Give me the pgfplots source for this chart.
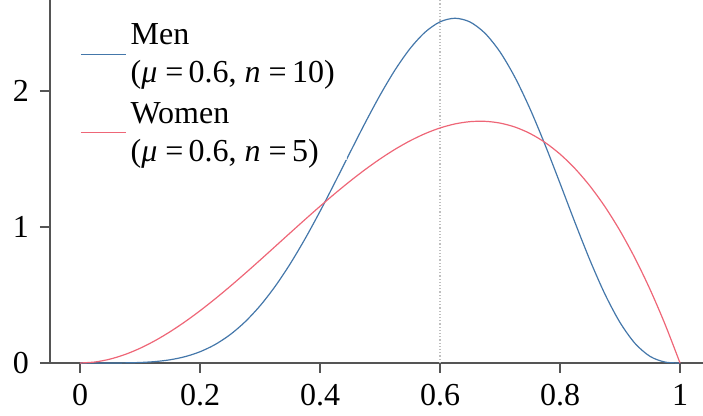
\documentclass[border=0pt]{standalone}
\usepackage{fontspec}
\setmainfont{Liberation Serif}
\usepackage{pgfplots}
\pgfplotsset{compat=1.18}
\definecolor{tolblue}{HTML}{4477AA}
\definecolor{tolred}{HTML}{EE6677}
\definecolor{axgray}{HTML}{555555}
\begin{document}
\fontsize{16}{19}\selectfont
\begin{tikzpicture}
\begin{axis}[
  scale only axis,
  width=326.5pt, height=181.5pt,
  xmin=-0.05, xmax=1.0383, ymin=0, ymax=2.669,
  axis lines=left,
  axis line style={-, axgray, line width=0.6pt},
  tick style={axgray, line width=0.6pt},
  tick align=outside, major tick length=5pt,
  xtick={0,0.2,0.4,0.6,0.8,1},
  ytick={0,1,2},
  xticklabels={0,0.2,0.4,0.6,0.8,1},
  yticklabels={0,1,2},
  tick label style={font=\fontsize{16}{19}\selectfont},
  /pgf/number format/assume math mode=true,
  legend style={draw=none, fill=white, fill opacity=0.8, text opacity=1,
    at={(rel axis cs:0,1)}, anchor=north west, xshift=11pt, yshift=-3pt,
    font=\fontsize{16}{19}\selectfont, inner sep=4pt, row sep=9.5pt},
  legend cell align=left,
  legend image code/.code={\draw[#1] (0pt,-5pt) -- (22.5pt,-5pt);},
  clip=false,
]
\addplot[gray!50, densely dotted, line width=0.6pt, forget plot] coordinates {(0.6,0) (0.6,2.669)};
\addplot[tolblue, line width=0.6pt, smooth] coordinates {
(0,0) (0.025,0.0000046) (0.05,0.000135) (0.075,0.000947) (0.1,0.003674)
(0.125,0.010305) (0.15,0.023505) (0.175,0.04645) (0.2,0.08258)
(0.225,0.13528) (0.25,0.20764) (0.275,0.30208) (0.3,0.42008)
(0.325,0.56203) (0.35,0.72697) (0.375,0.91249) (0.4,1.11477)
(0.425,1.32855) (0.45,1.54735) (0.475,1.76353) (0.5,1.96875)
(0.525,2.1543) (0.55,2.3114) (0.575,2.4319) (0.6,2.50822)
(0.625,2.5347) (0.65,2.5073) (0.675,2.4244) (0.7,2.28709)
(0.725,2.0995) (0.75,1.86877) (0.775,1.6051) (0.8,1.32122)
(0.825,1.0323) (0.85,0.75475) (0.875,0.50490) (0.9,0.29761)
(0.925,0.14399) (0.95,0.048748) (0.975,0.006939) (1,0)
};
\addlegendentry{\begin{tabular}[c]{@{}l@{}}Men\\(\textit{μ} =\,0.6, \textit{n} =\,10)\end{tabular}}
\addplot[tolred, line width=0.6pt, smooth] coordinates {
(0,0) (0.025,0.0073125) (0.05,0.0285) (0.075,0.0624375) (0.1,0.108)
(0.125,0.1640625) (0.15,0.2295) (0.175,0.3031875) (0.2,0.384)
(0.225,0.4708125) (0.25,0.5625) (0.275,0.6579375) (0.3,0.756)
(0.325,0.8555625) (0.35,0.9555) (0.375,1.0546875) (0.4,1.152)
(0.425,1.2463125) (0.45,1.3365) (0.475,1.4214375) (0.5,1.5)
(0.525,1.5710625) (0.55,1.6335) (0.575,1.6861875) (0.6,1.728)
(0.625,1.7578125) (0.65,1.7745) (0.675,1.7769375) (0.7,1.764)
(0.725,1.7345625) (0.75,1.6875) (0.775,1.6216875) (0.8,1.536)
(0.825,1.4293125) (0.85,1.3005) (0.875,1.1484375) (0.9,0.972)
(0.925,0.7700625) (0.95,0.5415) (0.975,0.2851875) (1,0)
};
\addlegendentry{\begin{tabular}[c]{@{}l@{}}Women\\(\textit{μ} =\,0.6, \textit{n} =\,5)\end{tabular}}
\end{axis}
\pgfresetboundingbox
\path (current axis.south west) ++(-25pt,-26.5pt) rectangle (current axis.north east);
\end{tikzpicture}
\end{document}
